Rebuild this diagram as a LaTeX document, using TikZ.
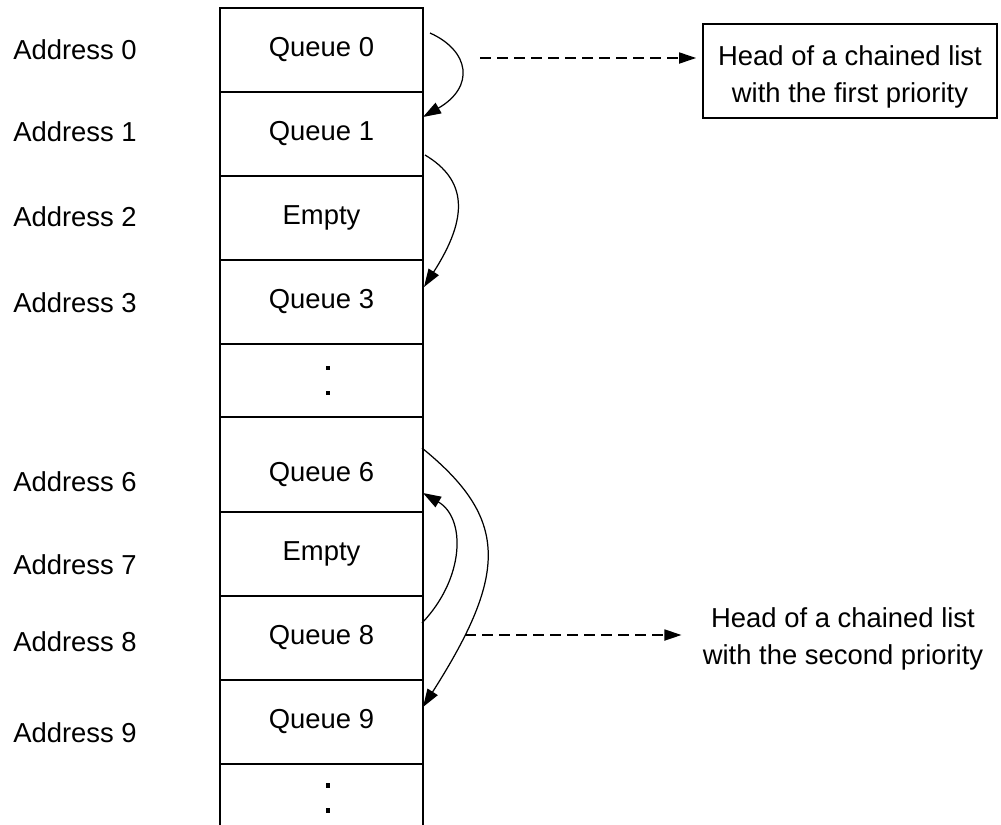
\documentclass[tikz,border=0pt]{standalone}
\usepackage{fontspec}
\setmainfont{Liberation Sans}
\usetikzlibrary{arrows.meta,positioning,calc}

\begin{document}
\begin{tikzpicture}[x=0.2mm,y=-0.2mm,
    font=\fontsize{15.6}{21}\selectfont,
    cell/.style={draw,line width=1pt,minimum width=40.6mm,minimum height=16.8mm,
      inner sep=0pt,outer sep=0pt},
    dotrow/.style={cell,minimum height=14.6mm},
    addr/.style={anchor=west,inner sep=0pt},
    head/.style={align=center,inner sep=0pt},
    link/.style={-{Triangle[length=3.6mm,width=2.4mm]},line width=0.7pt},
    ptr/.style={-{Triangle[length=3.4mm,width=2.2mm]},line width=1pt,
      dash pattern=on 2.2mm off 1.2mm}]
  \useasboundingbox (0,0) rectangle (1001,825);
  % memory table
  \node[cell] (q0) at (321.5,50) {Queue 0};
  \node[cell,below=0pt of q0] (q1) {Queue 1};
  \node[cell,below=0pt of q1] (q2) {Empty};
  \node[cell,below=0pt of q2] (q3) {Queue 3};
  \node[dotrow,below=0pt of q3] (gap1) {};
  \node[cell,below=0pt of gap1,minimum height=19mm,text height=8mm] (q6) {Queue 6};
  \node[cell,below=0pt of q6] (q7) {Empty};
  \node[cell,below=0pt of q7] (q8) {Queue 8};
  \node[cell,below=0pt of q8] (q9) {Queue 9};
  \node[dotrow,draw=none,below=0pt of q9,minimum height=13.6mm] (gap2) {};
  \draw[line width=1pt] (gap2.north west) -- (gap2.south west)
    (gap2.north east) -- (gap2.south east);
  % skipped rows
  \foreach \g in {gap1,gap2}
    \foreach \d in {-12.5,12.5}
      \fill ($(\g.center)+(6.5,\d)$) +(-2.2,-2.2) rectangle +(2.2,2.2);
  % addresses
  \foreach \n/\y in {0/50,1/132,2/217,3/303,6/482,7/565,8/642,9/733}
    \node[addr] (ad\n) at (13,\y) {Address \n};
  % heads
  \node[head,draw,line width=1pt,minimum width=58.8mm,minimum height=18.8mm,text height=13.6mm]
    (head1) at (850,71) {Head of a chained list\\with the first priority};
  \node[head] (head2) at (843,638.5) {Head of a chained list\\with the second priority};
  % chaining
  \draw[link] ($(q0.east)+(7,-17)$) .. controls +(40,18) and +(52,-30) .. ($(q1.east)+(0,-17)$);
  \draw[link] ($(q1.east)+(2,21)$) .. controls +(42,25) and +(45,-70) .. ($(q3.east)+(1,-15)$);
  \draw[link] ($(q8.east)+(-1,-15)$) .. controls +(43,-45) and +(43,25) .. ($(q6.east)+(0,28.5)$);
  \draw[link] ($(q6.east)+(-1,-16.5)$) .. controls +(86,70) and +(86,-135) .. ($(q9.east)+(0,-15)$);
  \coordinate (p0) at ($(q0.east)+(57,8)$);
  \coordinate (p8) at ($(q8.east)+(42,-3)$);
  \draw[ptr,shorten >=1.2mm] (p0) -- (p0 -| head1.west);
  \draw[ptr,shorten >=4.2mm] (p8) -- (p8 -| head2.west);
\end{tikzpicture}
\end{document}
